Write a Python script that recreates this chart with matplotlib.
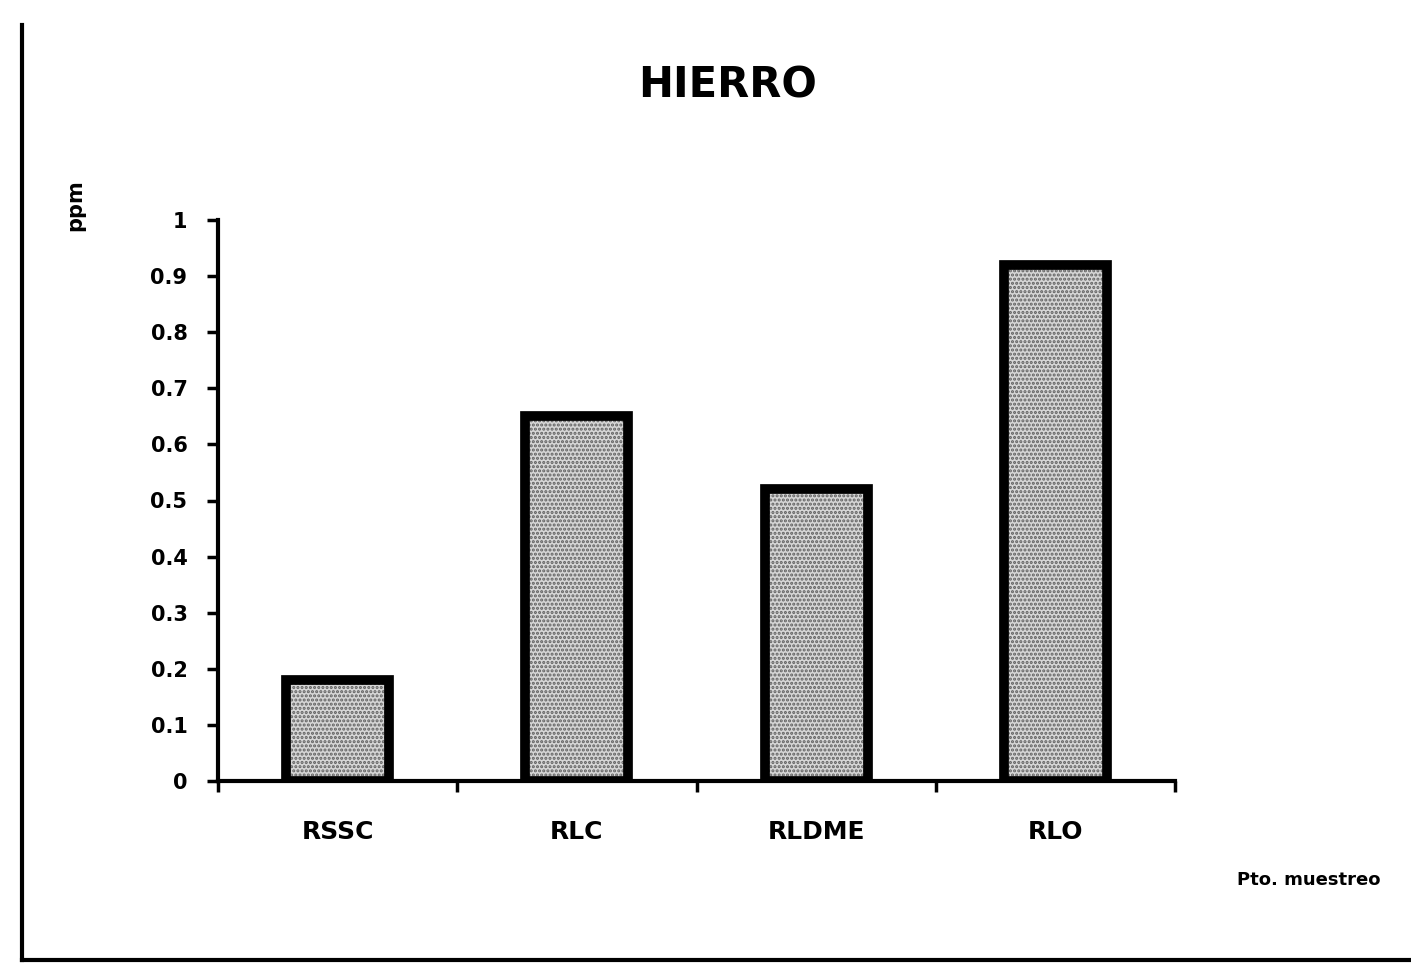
import numpy as np
import matplotlib.pyplot as plt
from matplotlib.lines import Line2D

# concentracion de hierro por punto de muestreo
puntos = ['RSSC', 'RLC', 'RLDME', 'RLO']
hierro = [0.18, 0.65, 0.52, 0.92]
yticks = [0, 0.1, 0.2, 0.3, 0.4, 0.5, 0.6, 0.7, 0.8, 0.9, 1]
ytick_labels = ['0', '0.1', '0.2', '0.3', '0.4', '0.5', '0.6', '0.7', '0.8', '0.9', '1']

plt.rcParams['font.family'] = ['DejaVu Sans']
plt.rcParams['font.weight'] = 'bold'
plt.rcParams['hatch.linewidth'] = 1.5

fig = plt.figure(figsize=(14.11, 9.65), dpi=100)
ax = fig.add_axes([218 / 1411, 1 - 781 / 965, (1175 - 218) / 1411, (781 - 220) / 965])

x = np.arange(len(puntos))
# relleno punteado y luego el contorno grueso
ax.bar(x, hierro, width=0.43, color='#d6d6d6', edgecolor='#606060',
       hatch='....', linewidth=0)
ax.bar(x, hierro, width=0.43, fill=False, edgecolor='black', linewidth=7)

ax.set_xlim(-0.5, len(puntos) - 0.5)
ax.set_ylim(0, 1)
ax.set_yticks(yticks)
ax.set_yticklabels(ytick_labels, fontsize=15, fontweight='bold')
ax.set_xticks(np.arange(len(puntos) + 1) - 0.5, minor=False)
ax.set_xticklabels([])
ax.set_xticks(x, minor=True)
ax.set_xticklabels(puntos, minor=True, fontsize=18, fontweight='bold')
ax.tick_params(axis='x', which='minor', length=0, pad=28)
ax.tick_params(axis='x', which='major', length=8, width=2.5, direction='out')
ax.tick_params(axis='y', length=8, width=2.5, direction='out', pad=14)

for side in ['top', 'right']:
    ax.spines[side].set_visible(False)
for side in ['left', 'bottom']:
    ax.spines[side].set_linewidth(3)

fig.text(728 / 1411, 1 - 85 / 965, 'HIERRO', ha='center', va='center',
         fontsize=30, fontweight='bold')
fig.text(75 / 1411, 1 - 205 / 965, 'ppm', ha='center', va='center',
         rotation=90, fontsize=15, fontweight='bold')
fig.text(1237 / 1411, 1 - 880 / 965, 'Pto. muestreo', ha='left', va='center',
         fontsize=13, fontweight='bold')

# marco exterior (solo izquierda y abajo)
fig.add_artist(Line2D([22 / 1411, 22 / 1411], [1 - 25 / 965, 1 - 960 / 965],
                      transform=fig.transFigure, color='black', linewidth=3))
fig.add_artist(Line2D([22 / 1411, 1], [1 - 960 / 965, 1 - 960 / 965],
                      transform=fig.transFigure, color='black', linewidth=3))

fig.savefig('out.png', dpi=100)
